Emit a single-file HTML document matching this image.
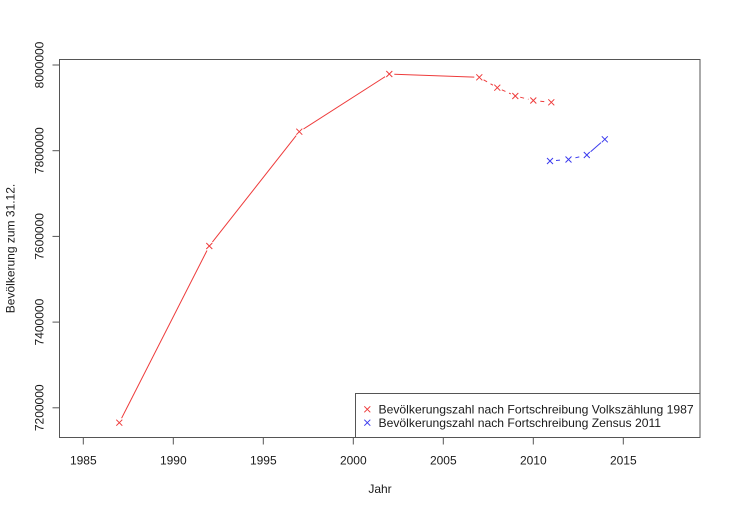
<!DOCTYPE html>
<html>
<head>
<meta charset="utf-8">
<style>
html,body{margin:0;padding:0;background:#fff;}
svg{display:block;}
text{font-family:"Liberation Sans",Arial,sans-serif;font-size:12px;fill:#1a1a1a;}
</style>
</head>
<body>
<svg width="731" height="512" viewBox="0 0 731 512" xmlns="http://www.w3.org/2000/svg">
<rect x="0" y="0" width="731" height="512" fill="#fff"/>
<!-- plot box -->
<rect x="59.5" y="59.5" width="640.5" height="378" fill="none" stroke="#555" stroke-width="1"/>
<!-- y ticks -->
<g stroke="#555" stroke-width="1">
<line x1="52.5" y1="65" x2="59.5" y2="65"/>
<line x1="52.5" y1="150.7" x2="59.5" y2="150.7"/>
<line x1="52.5" y1="236.4" x2="59.5" y2="236.4"/>
<line x1="52.5" y1="322.1" x2="59.5" y2="322.1"/>
<line x1="52.5" y1="407.8" x2="59.5" y2="407.8"/>
<!-- x ticks -->
<line x1="83.3" y1="437.5" x2="83.3" y2="444.5"/>
<line x1="173.3" y1="437.5" x2="173.3" y2="444.5"/>
<line x1="263.3" y1="437.5" x2="263.3" y2="444.5"/>
<line x1="353.3" y1="437.5" x2="353.3" y2="444.5"/>
<line x1="443.3" y1="437.5" x2="443.3" y2="444.5"/>
<line x1="533.3" y1="437.5" x2="533.3" y2="444.5"/>
<line x1="623.3" y1="437.5" x2="623.3" y2="444.5"/>
</g>
<!-- y tick labels -->
<g text-anchor="middle">
<text transform="translate(43.5,65) rotate(-90)">8000000</text>
<text transform="translate(43.5,150.7) rotate(-90)">7800000</text>
<text transform="translate(43.5,236.4) rotate(-90)">7600000</text>
<text transform="translate(43.5,322.1) rotate(-90)">7400000</text>
<text transform="translate(43.5,407.8) rotate(-90)">7200000</text>
<!-- x tick labels -->
<text x="83.3" y="464.5">1985</text>
<text x="173.3" y="464.5">1990</text>
<text x="263.3" y="464.5">1995</text>
<text x="353.3" y="464.5">2000</text>
<text x="443.3" y="464.5">2005</text>
<text x="533.3" y="464.5">2010</text>
<text x="623.3" y="464.5">2015</text>
<!-- axis titles -->
<text x="380" y="493">Jahr</text>
<text transform="translate(14.5,248.5) rotate(-90)">Bevölkerung zum 31.12.</text>
</g>
<!-- red solid segments -->
<g stroke="#ee3b3b" stroke-width="1" fill="none">
<line x1="121.6" y1="418.2" x2="207.0" y2="250.5"/>
<line x1="212.4" y1="242.1" x2="296.2" y2="135.6"/>
<line x1="303.5" y1="129.0" x2="385.1" y2="76.7"/>
<line x1="394.3" y1="74.2" x2="474.3" y2="77.1"/>
</g>
<!-- red dashed -->
<g stroke="#ee3b3b" stroke-width="1" fill="none" stroke-dasharray="4 4">
<line x1="483.6" y1="79.8" x2="493.0" y2="85.2"/>
<line x1="501.8" y1="89.8" x2="510.8" y2="93.9"/>
<line x1="520.2" y1="97.2" x2="528.5" y2="99.3"/>
<line x1="540.3" y1="101.2" x2="546.3" y2="101.8"/>
</g>
<!-- blue dashed -->
<g stroke="#3b3bee" stroke-width="1" fill="none" stroke-dasharray="4 4">
<line x1="556" y1="160.5" x2="563.5" y2="159.9"/>
<line x1="575.4" y1="157.8" x2="581.9" y2="156.2"/>
</g>
<g stroke="#3b3bee" stroke-width="1" fill="none">
<line x1="590.6" y1="151.7" x2="601.0" y2="142.6"/>
</g>
<!-- red markers -->
<g stroke="#ee3b3b" stroke-width="1" fill="none">
<path d="M116.3,419.7 l6,6 M116.3,425.7 l6,-6"/>
<path d="M206.3,243 l6,6 M206.3,249 l6,-6"/>
<path d="M296.3,128.7 l6,6 M296.3,134.7 l6,-6"/>
<path d="M386.3,71 l6,6 M386.3,77 l6,-6"/>
<path d="M476.3,74.3 l6,6 M476.3,80.3 l6,-6"/>
<path d="M494.3,84.7 l6,6 M494.3,90.7 l6,-6"/>
<path d="M512.3,93 l6,6 M512.3,99 l6,-6"/>
<path d="M530.3,97.5 l6,6 M530.3,103.5 l6,-6"/>
<path d="M548.3,99.3 l6,6 M548.3,105.3 l6,-6"/>
<!-- legend marker -->
<path d="M364.3,406.3 l6,6 M364.3,412.3 l6,-6"/>
</g>
<!-- blue markers -->
<g stroke="#3b3bee" stroke-width="1" fill="none">
<path d="M547,158 l6,6 M547,164 l6,-6"/>
<path d="M565.5,156.5 l6,6 M565.5,162.5 l6,-6"/>
<path d="M583.8,152 l6,6 M583.8,158 l6,-6"/>
<path d="M601.8,136.3 l6,6 M601.8,142.3 l6,-6"/>
<path d="M364.3,419.7 l6,6 M364.3,425.7 l6,-6"/>
</g>
<!-- legend -->
<rect x="355.5" y="393.5" width="344.5" height="44" fill="none" stroke="#555" stroke-width="1"/>
<text x="378.5" y="413.3" style="font-size:12.15px">Bevölkerungszahl nach Fortschreibung Volkszählung 1987</text>
<text x="378.5" y="427" style="font-size:12.15px">Bevölkerungszahl nach Fortschreibung Zensus 2011</text>
</svg>
</body>
</html>
